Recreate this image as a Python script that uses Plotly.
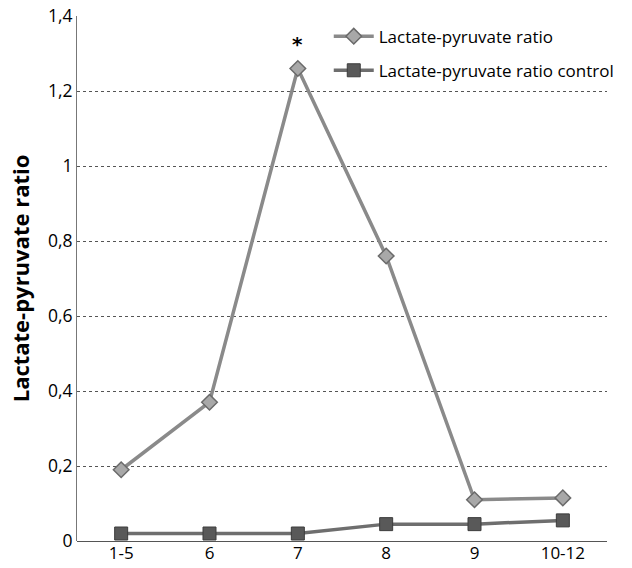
import plotly.graph_objects as go

categories = ["1-5", "6", "7", "8", "9", "10-12"]
ratio = [0.19, 0.37, 1.26, 0.76, 0.11, 0.115]
ratio_control = [0.02, 0.02, 0.02, 0.045, 0.045, 0.055]
y_ticks = [0, 0.2, 0.4, 0.6, 0.8, 1.0, 1.2, 1.4]
y_tick_text = ["0", "0,2", "0,4", "0,6", "0,8", "1", "1,2", "1,4"]

fig = go.Figure()
fig.add_trace(go.Scatter(
    x=categories, y=ratio, mode="lines+markers", name="Lactate-pyruvate ratio",
    legendgroup="a",
    line=dict(color="#8a8a8a", width=3.5),
    marker=dict(symbol="diamond", size=12, color="#a8a8a8", line=dict(color="#6a6a6a", width=1.5)),
))
fig.add_trace(go.Scatter(
    x=categories, y=ratio_control, mode="lines+markers", name="Lactate-pyruvate ratio control",
    legendgroup="b",
    line=dict(color="#6e6e6e", width=3.5),
    marker=dict(symbol="square", size=13, color="#595959", line=dict(color="#3c3c3c", width=1)),
))
fig.add_annotation(x=2, y=ratio[2], text="<b>*</b>", showarrow=False, yshift=25,
                   font=dict(size=20, color="black", family="DejaVu Sans"))

fig.update_layout(
    width=632, height=568,
    margin=dict(l=77, r=25, t=16, b=27),
    plot_bgcolor="white", paper_bgcolor="white",
    font=dict(family="Open Sans, Noto Sans, sans-serif", size=15, color="black"),
    legend=dict(x=0.475, y=0.995, xanchor="left", yanchor="top", bgcolor="rgba(0,0,0,0)",
                font=dict(size=17), tracegroupgap=9, itemwidth=40),
    xaxis=dict(type="category", showgrid=False, showline=False, ticks="",
               tickfont=dict(size=17), range=[-0.5, 5.5], automargin=False),
    yaxis=dict(range=[0, 1.4], tickvals=y_ticks, ticktext=y_tick_text,
               showgrid=True, gridcolor="#555555", griddash="dot", gridwidth=1,
               showline=True, linecolor="#777777", linewidth=1,
               zeroline=True, zerolinecolor="#555555", zerolinewidth=1,
               ticks="", tickfont=dict(size=17.5), automargin=False,
               title=dict(text="<b>Lactate-pyruvate ratio</b>", font=dict(size=22), standoff=12)),
    showlegend=True,
)
fig.write_html("out.html")
